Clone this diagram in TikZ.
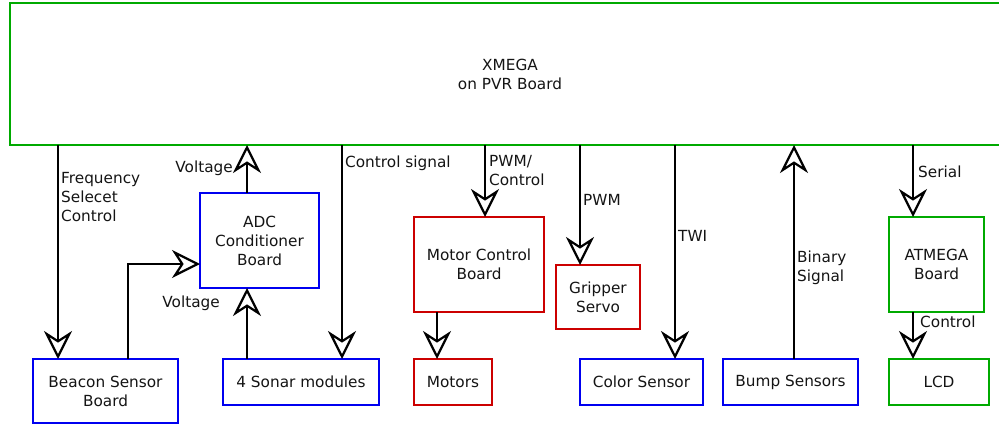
\documentclass[tikz,border=0pt]{standalone}
\usepackage{fontspec}
\setmainfont{DejaVu Sans}
\usetikzlibrary{arrows.meta}
\definecolor{cgreen}{RGB}{0,170,0}
\definecolor{cblue}{RGB}{0,0,240}
\definecolor{cred}{RGB}{204,0,0}
\definecolor{ctext}{RGB}{20,20,20}
\begin{document}
\begin{tikzpicture}[x=1pt,y=-1pt,
  txt/.style={font=\fontsize{15.3pt}{19pt}\selectfont, text=ctext},
  box/.style={txt, draw, line width=2.3pt, inner sep=0pt, outer sep=0pt, align=center},
  lbl/.style={txt, inner sep=0pt, align=left},
  arr/.style={line width=2.4pt, draw=black,
    -{Stealth[length=28pt,width=28pt,inset=9pt,fill=white,line width=2.2pt]}}]
\useasboundingbox (0,0) rectangle (999,425);
\clip (0,0) rectangle (999,425);
% boxes
\node[box,draw=cgreen,minimum width=1000pt,minimum height=142pt] (xmega) at (510,74) {XMEGA\\on PVR Board};
\node[box,draw=cblue,minimum width=119pt,minimum height=95pt] (adc) at (259.5,240.5) {ADC\\Conditioner\\Board};
\node[box,draw=cblue,minimum width=145pt,minimum height=64pt] (beacon) at (105.5,391) {Beacon Sensor\\Board};
\node[box,draw=cblue,minimum width=156pt,minimum height=46pt] (sonar) at (301,382) {4 Sonar modules};
\node[box,draw=cred,minimum width=130pt,minimum height=95pt] (mcb) at (479,264.5) {Motor Control\\Board};
\node[box,draw=cred,minimum width=78pt,minimum height=46pt] (motors) at (453,382) {Motors};
\node[box,draw=cred,minimum width=84pt,minimum height=64pt] (gripper) at (598,297) {Gripper\\Servo};
\node[box,draw=cblue,minimum width=123pt,minimum height=46pt] (color) at (641.5,382) {Color Sensor};
\node[box,draw=cblue,minimum width=135pt,minimum height=46pt] (bump) at (790.5,382) {Bump Sensors};
\node[box,draw=cgreen,minimum width=95pt,minimum height=95pt] (atmega) at (936.5,264.5) {ATMEGA\\Board};
\node[box,draw=cgreen,minimum width=100pt,minimum height=46pt] (lcd) at (939,382) {LCD};
% connector coordinates
\coordinate (fq) at ([xshift=25pt]beacon.north west);
\coordinate (ad) at ([xshift=47pt]adc.north west);
\coordinate (bs) at ([xshift=95pt]beacon.north west);
\coordinate (ai) at ([yshift=-23.5pt]adc.west);
\coordinate (so) at ([xshift=24pt]sonar.north west);
\coordinate (cs) at ([xshift=119pt]sonar.north west);
\coordinate (pc) at ([xshift=71pt]mcb.north west);
\coordinate (mo) at ([xshift=23pt]motors.north west);
\coordinate (pw) at ([xshift=24pt]gripper.north west);
\coordinate (tw) at ([xshift=95pt]color.north west);
\coordinate (bi) at ([xshift=71pt]bump.north west);
\coordinate (se) at ([xshift=24pt]atmega.north west);
\coordinate (lc) at ([xshift=24pt]lcd.north west);
% connectors
\draw[arr] (fq |- xmega.south) -- (fq);
\draw[arr] (ad |- adc.north) -- (ad |- xmega.south);
\draw[arr] (bs) |- (ai);
\draw[arr] (so) -- (so |- adc.south);
\draw[arr] (cs |- xmega.south) -- (cs);
\draw[arr] (pc |- xmega.south) -- (pc);
\draw[arr] (mo |- mcb.south) -- (mo);
\draw[arr] (pw |- xmega.south) -- (pw);
\draw[arr] (tw |- xmega.south) -- (tw);
\draw[arr] (bi) -- (bi |- xmega.south);
\draw[arr] (se |- xmega.south) -- (se);
\draw[arr] (lc |- atmega.south) -- (lc);
% labels
\node[lbl,anchor=west] (lfq) at (61,197) {Frequency\\Selecet\\Control};
\node[lbl,anchor=east] (lv1) at (233,168) {Voltage};
\node[lbl,anchor=east] (lv2) at (220,303) {Voltage};
\node[lbl,anchor=west] (lcs) at (345,163) {Control signal};
\node[lbl,anchor=west] (lpc) at (489,171) {PWM/\\Control};
\node[lbl,anchor=west] (lpw) at (583,200) {PWM};
\node[lbl,anchor=west] (ltw) at (678,236) {TWI};
\node[lbl,anchor=west] (lbi) at (797,268) {Binary\\Signal};
\node[lbl,anchor=west] (lse) at (918,172) {Serial};
\node[lbl,anchor=west] (lco) at (920,322) {Control};
\end{tikzpicture}
\end{document}
